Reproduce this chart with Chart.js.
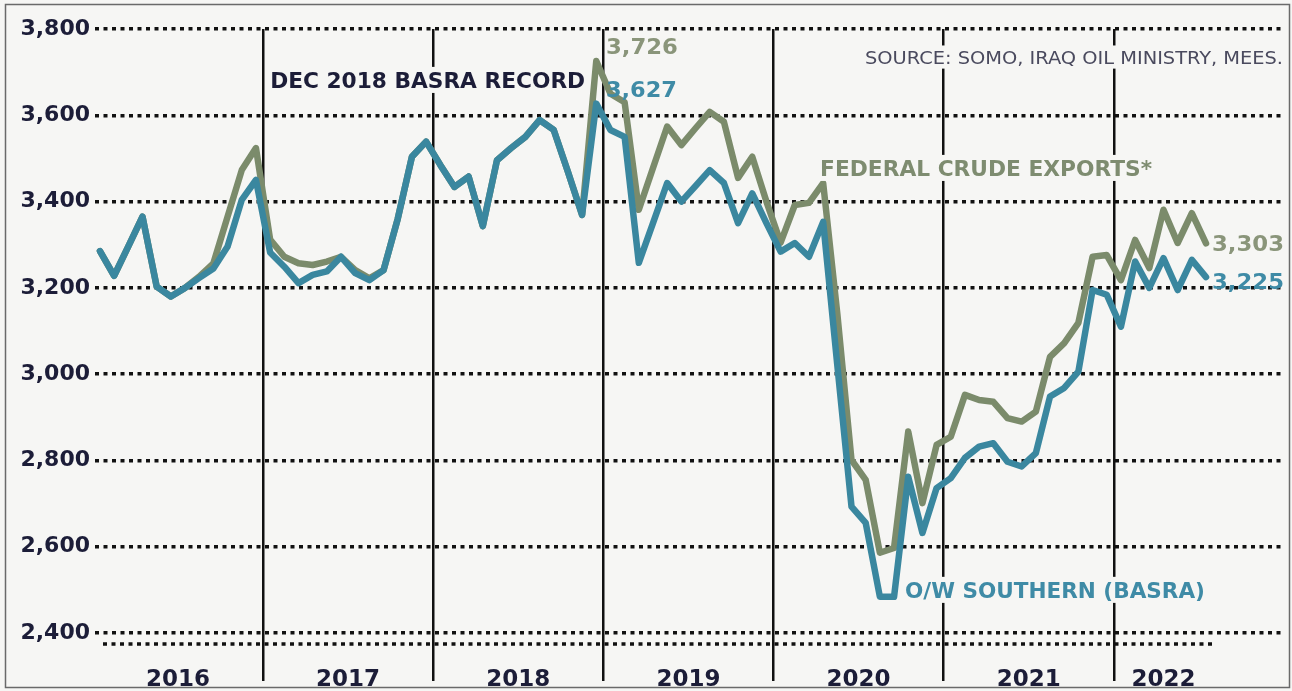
<!DOCTYPE html>
<html lang="en">
<head>
<meta charset="UTF-8">
<title>Iraq crude exports</title>
<script src="https://cdn.jsdelivr.net/npm/chart.js@4.4.1/dist/chart.umd.min.js"></script>
<style>
  html, body { margin: 0; padding: 0; background: #f6f6f4; }
  canvas { display: block; }
</style>
</head>
<body>
<canvas id="chart" width="1292" height="691"></canvas>
<script>
// monthly values, Jan 2016 .. Jul 2022 (index 0 = Jan 2016)
const basra = [
  3285, 3228, 3296, 3365, 3203, 3180, 3200, 3223, 3245, 3296, 3404, 3450,
  3282, 3249, 3211, 3230, 3238, 3272, 3234, 3218, 3241, 3360, 3504, 3539,
  3485, 3434, 3458, 3343, 3496, 3524, 3550, 3589, 3566, 3469, 3369, 3627,
  3566, 3550, 3258, 3350, 3443, 3400, 3436, 3473, 3443, 3350, 3419, 3350,
  3284, 3304, 3272, 3353, 3020, 2693, 2655, 2484, 2484, 2762, 2632, 2736,
  2759, 2806, 2832, 2840, 2797, 2786, 2817, 2948, 2968, 3006, 3195, 3184,
  3110, 3261, 3200, 3269, 3195, 3265, 3225
];
const federal = [
  3285, 3228, 3296, 3365, 3203, 3180, 3200, 3226, 3257, 3365, 3473, 3524,
  3312, 3272, 3257, 3253, 3261, 3272, 3241, 3222, 3241, 3360, 3504, 3539,
  3485, 3434, 3458, 3343, 3496, 3524, 3550, 3589, 3566, 3469, 3369, 3726,
  3650, 3630, 3381, 3478, 3574, 3531, 3570, 3608, 3585, 3455, 3504, 3400,
  3305, 3392, 3397, 3443, 3140, 2801, 2755, 2586, 2597, 2867, 2701, 2836,
  2855, 2952, 2940, 2936, 2898, 2890, 2913, 3040, 3072, 3119, 3272, 3276,
  3218, 3311, 3246, 3381, 3304, 3373, 3303
];
const years = ['2016', '2017', '2018', '2019', '2020', '2021', '2022'];
const yearCenters = [5.5, 17.5, 29.5, 41.5, 53.5, 65.5, 75];
const yearBounds = [11.5, 23.5, 35.5, 47.5, 59.5, 71.5];

const BG = '#f6f6f4';
const NAVY = '#1c1d38';
const BLUE = '#3a879f';
const GREEN = '#7b8b6b';
const GREEN_TXT = '#8a957a';
const BLUE_TXT = '#3f8ba6';

// text notes, placed in data units
const notes = [
  { text: 'DEC 2018 BASRA RECORD', x: 12.0, y: 3682, width: 315, size: 22, weight: 'bold', family: 'DejaVu Sans Condensed', color: NAVY, bg: true },
  { text: '3,726', x: 35.68, y: 3761, width: 72, size: 22, weight: 'bold', family: 'DejaVu Sans', color: GREEN_TXT },
  { text: '3,627', x: 35.68, y: 3661, width: 71, size: 22, weight: 'bold', family: 'DejaVu Sans', color: BLUE_TXT },
  { text: 'FEDERAL CRUDE EXPORTS*', x: 50.78, y: 3478, width: 332, size: 22, weight: 'bold', family: 'DejaVu Sans Condensed', color: '#7e8c70', bg: true },
  { text: 'O/W SOUTHERN (BASRA)', x: 56.77, y: 2500, width: 300, size: 22, weight: 'bold', family: 'DejaVu Sans Condensed', color: BLUE_TXT, bg: true },
  { text: '3,303', x: 78.42, y: 3303, width: 72, size: 21, weight: 'bold', family: 'DejaVu Sans', color: GREEN_TXT },
  { text: '3,225', x: 78.42, y: 3215, width: 72, size: 21, weight: 'bold', family: 'DejaVu Sans', color: BLUE_TXT },
  { text: 'SOURCE: SOMO, IRAQ OIL MINISTRY, MEES.', x: 83.43, y: 3735, width: 418, size: 18, weight: 'normal', family: 'DejaVu Sans Condensed', color: '#4a4a5e', bg: true, align: 'right' }
];

function drawNote(ctx, n, xs, ys) {
  const px = xs.getPixelForValue(n.x);
  const py = ys.getPixelForValue(n.y);
  ctx.save();
  ctx.font = n.weight + ' ' + n.size + 'px "' + n.family + '"';
  const w = ctx.measureText(n.text).width;
  const left = n.align === 'right' ? px - n.width : px;
  const cap = n.size * 0.73;
  if (n.bg) {
    ctx.fillStyle = BG;
    ctx.fillRect(left - 4, py - cap / 2 - 5, n.width + 8, cap + 10);
  }
  ctx.translate(left, py + cap / 2);
  ctx.scale(n.width / w, 1);
  ctx.fillStyle = n.color;
  ctx.textAlign = 'left';
  ctx.textBaseline = 'alphabetic';
  ctx.fillText(n.text, 0, 0);
  ctx.restore();
}

const decor = {
  id: 'decor',
  beforeDraw(chart) {
    const ctx = chart.ctx;
    ctx.save();
    ctx.fillStyle = BG;
    ctx.fillRect(0, 0, chart.width, chart.height);
    ctx.restore();
  },
  beforeDatasetsDraw(chart) {
    // second dotted row under the 2,400 line
    const ctx = chart.ctx, a = chart.chartArea, xs = chart.scales.x;
    ctx.save();
    ctx.strokeStyle = '#111';
    ctx.lineWidth = 3.5;
    ctx.setLineDash([4, 4.5]);
    ctx.beginPath();
    ctx.moveTo(a.left + 8, a.bottom + 11);
    ctx.lineTo(xs.getPixelForValue(78) + 8, a.bottom + 11);
    ctx.stroke();
    ctx.restore();
  },
  afterDraw(chart) {
    const ctx = chart.ctx;
    notes.forEach(n => drawNote(ctx, n, chart.scales.x, chart.scales.y));
    ctx.save();
    ctx.strokeStyle = '#6a6a6a';
    ctx.lineWidth = 1.5;
    ctx.strokeRect(5.5, 4.5, 1284, 683);
    ctx.restore();
  }
};

const axisFont = { family: 'DejaVu Sans', weight: 'bold', size: 22 };

new Chart(document.getElementById('chart'), {
  type: 'line',
  data: {
    datasets: [
      {
        label: 'O/W Southern (Basra)',
        data: basra.map((v, i) => ({ x: i, y: v })),
        borderColor: BLUE, borderWidth: 6.5, pointRadius: 0, tension: 0,
        borderJoinStyle: 'round', borderCapStyle: 'round', fill: false
      },
      {
        label: 'Federal crude exports*',
        data: federal.map((v, i) => ({ x: i, y: v })),
        borderColor: GREEN, borderWidth: 6.5, pointRadius: 0, tension: 0,
        borderJoinStyle: 'round', borderCapStyle: 'round', fill: false
      }
    ]
  },
  options: {
    responsive: false,
    animation: false,
    layout: { padding: { top: 29, right: 7, bottom: 0, left: 0 } },
    plugins: { legend: { display: false }, tooltip: { enabled: false } },
    scales: {
      x: {
        type: 'linear', min: -0.35, max: 83.57, z: 1,
        afterBuildTicks: s => { s.ticks = yearBounds.concat(yearCenters).map(v => ({ value: v })); },
        afterFit: s => { s.height = 58; },
        ticks: {
          autoSkip: false, maxRotation: 0, padding: -15, color: NAVY,
          font: { family: 'DejaVu Sans', weight: 'bold', size: 23 },
          callback: v => { const k = yearCenters.indexOf(v); return k >= 0 ? years[k] : ''; }
        },
        grid: {
          color: c => (c.tick && yearBounds.includes(c.tick.value)) ? '#111' : 'rgba(0,0,0,0)',
          lineWidth: 2.5, drawTicks: true, tickLength: 48
        },
        border: { display: false }
      },
      y: {
        min: 2400, max: 3800,
        afterFit: s => { s.width = 95; },
        ticks: {
          stepSize: 200, padding: 5, color: NAVY, font: axisFont,
          callback: v => v.toLocaleString('en-US')
        },
        grid: { color: '#111', lineWidth: 3.5, drawTicks: false },
        border: { display: false, dash: [4, 4.5] }
      }
    }
  },
  plugins: [decor]
});
</script>
</body>
</html>
